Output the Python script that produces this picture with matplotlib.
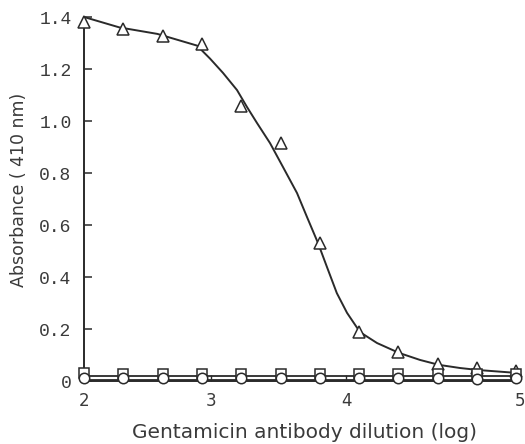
import matplotlib
matplotlib.use("Agg")
import matplotlib.pyplot as plt

# ---- data (log dilution vs absorbance) ----
log_dilution = [2.0, 2.3, 2.6, 2.9, 3.2, 3.5, 3.8, 4.1, 4.4, 4.7, 5.0, 5.3]
abs_triangle = [1.38, 1.354, 1.327, 1.296, 1.058, 0.915, 0.531, 0.188, 0.112, 0.065, 0.05, 0.038]
abs_square = [0.03, 0.028, 0.028, 0.028, 0.026, 0.026, 0.026, 0.026, 0.026, 0.026, 0.026, 0.026]
abs_circle = [0.012, 0.01, 0.01, 0.01, 0.01, 0.01, 0.01, 0.01, 0.01, 0.01, 0.008, 0.01]

# smooth fitted curve for the triangle series
curve_x = [2.0, 2.27, 2.56, 2.863, 2.962, 3.061, 3.168, 3.244, 3.321, 3.42, 3.519,
           3.626, 3.702, 3.786, 3.855, 3.93, 4.008, 4.107, 4.237, 4.405, 4.565,
           4.71, 4.87, 5.015, 5.305]
curve_y = [1.40, 1.36, 1.335, 1.29, 1.24, 1.185, 1.119, 1.054, 0.992, 0.915, 0.823,
           0.723, 0.631, 0.531, 0.438, 0.338, 0.262, 0.188, 0.146, 0.108, 0.081,
           0.062, 0.05, 0.042, 0.031]
square_line = [0.018, 0.018]
circle_line = [0.004, 0.004]

y_ticks = [0, 0.2, 0.4, 0.6, 0.8, 1.0, 1.2, 1.4]
y_tick_labels = ["0", "0.2", "0.4", "0.6", "0.8", "1.0", "1.2", "1.4"]
x_tick_pos = [2, 2.97, 4, 5.33]
x_tick_labels = ["2", "3", "4", "5"]

ink = "#2a2a2a"
txt = "#3a3a3a"

fig = plt.figure(figsize=(5.25, 4.44), dpi=100)
ax = fig.add_axes([0, 0, 1, 1])
ax.set_xlim(2 - 84 / 131, 2 + (525 - 84) / 131)
ax.set_ylim(-63 / 260, 381 / 260)

ax.plot(curve_x, curve_y, color=ink, lw=1.4, zorder=2, solid_joinstyle="round")
ax.plot([log_dilution[0], log_dilution[-1]], square_line, color=ink, lw=1.3, zorder=2)
ax.plot([log_dilution[0], log_dilution[-1]], circle_line, color=ink, lw=1.3, zorder=2)

ax.plot(log_dilution, abs_triangle, ls="none", marker="^", ms=8.5, mfc="white",
        mec=ink, mew=1.1, zorder=3)
ax.plot(log_dilution, abs_square, ls="none", marker="s", ms=7, mfc="white",
        mec=ink, mew=1.1, zorder=3)
ax.plot(log_dilution, abs_circle, ls="none", marker="o", ms=7.5, mfc="white",
        mec=ink, mew=1.1, zorder=4)

for s in ["top", "right"]:
    ax.spines[s].set_visible(False)
ax.spines["left"].set_position(("data", 2.0))
ax.spines["bottom"].set_position(("data", 0.0))
ax.spines["left"].set_bounds(0, 1.4)
ax.spines["bottom"].set_bounds(2.0, 5.33)
ax.spines["left"].set_color(ink)
ax.spines["bottom"].set_color(ink)
ax.spines["left"].set_linewidth(1.4)
ax.spines["bottom"].set_linewidth(1.4)

ax.set_yticks(y_ticks)
ax.set_yticklabels(y_tick_labels)
ax.set_xticks(x_tick_pos)
ax.set_xticklabels(x_tick_labels)
ax.tick_params(axis="y", direction="in", length=6, width=1.1, color=ink,
               labelsize=13, labelcolor=txt, pad=9)
ax.tick_params(axis="x", direction="in", length=4, width=1.0, color=ink,
               labelsize=12, labelcolor=txt, pad=8)
for lab in ax.get_yticklabels():
    lab.set_fontfamily("Liberation Mono")
for lab in ax.get_xticklabels():
    lab.set_fontfamily("DejaVu Sans")
# hide tick marks at 2 and 5 on x
xt = ax.xaxis.get_major_ticks()
xt[0].tick1line.set_visible(False)
xt[-1].tick1line.set_visible(False)

fig.text(304 / 525, 1 - 432 / 444, "Gentamicin antibody dilution (log)",
         ha="center", va="center", fontsize=14.5, color=txt, family="DejaVu Sans")
fig.text(19 / 525, 1 - 190 / 444, "Absorbance ( 410 nm)", rotation=90,
         ha="center", va="center", fontsize=12.5, color=txt, family="DejaVu Sans")

fig.savefig("out.png", dpi=100)
